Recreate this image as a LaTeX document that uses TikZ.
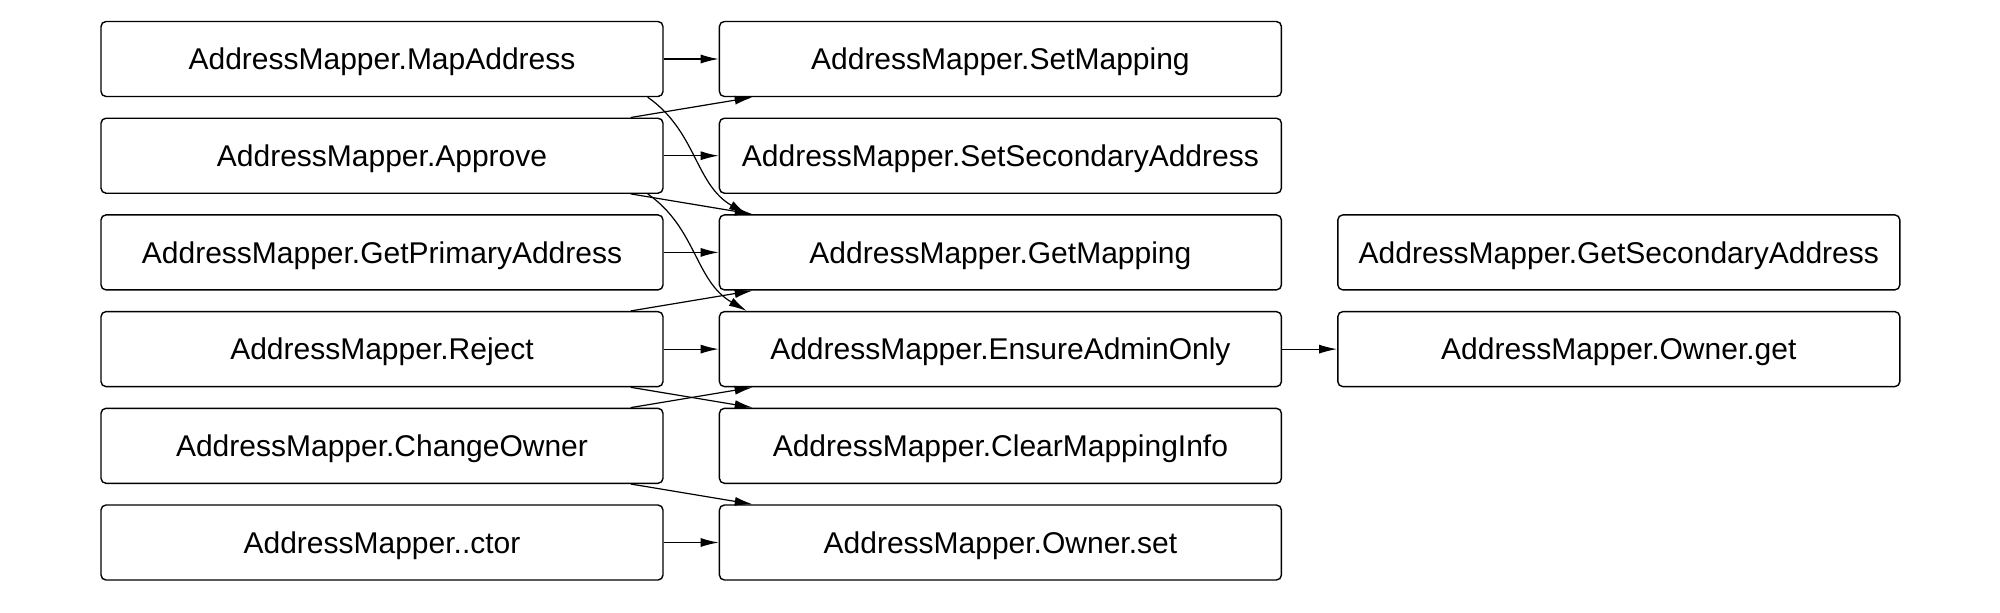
\documentclass[tikz,border=0pt]{standalone}
\usepackage{fontspec}
\setmainfont{Liberation Sans}
\usepackage{tikz}
\usetikzlibrary{arrows.meta, positioning}

\begin{document}
\begin{tikzpicture}[
    node distance=10.15pt and 27.5pt,
    every node/.style={rectangle, draw, rounded corners=2.5pt, line width=0.7pt,
        minimum width=281pt, minimum height=37.5pt, inner sep=0pt, text depth=0pt,
        font=\fontsize{15}{17}\selectfont},
    call/.style={draw, line width=0.6pt, -{Latex[length=9pt,width=4.5pt]}}
]
\useasboundingbox (0,0) rectangle (1000pt,-306pt);

% callers
\node (mapAddr) at (191pt,-29.5pt) {AddressMapper.MapAddress};
\node[below=of mapAddr] (approve) {AddressMapper.Approve};
\node[below=of approve] (getPrimary) {AddressMapper.GetPrimaryAddress};
\node[below=of getPrimary] (reject) {AddressMapper.Reject};
\node[below=of reject] (changeOwner) {AddressMapper.ChangeOwner};
\node[below=of changeOwner] (ctor) {AddressMapper..ctor};

% callees
\node[right=of mapAddr] (setMapping) {AddressMapper.SetMapping};
\node[right=of approve] (setSecondary) {AddressMapper.SetSecondaryAddress};
\node[right=of getPrimary] (getMapping) {AddressMapper.GetMapping};
\node[right=of reject] (ensureAdmin) {AddressMapper.EnsureAdminOnly};
\node[right=of changeOwner] (clearMapping) {AddressMapper.ClearMappingInfo};
\node[right=of ctor] (ownerSet) {AddressMapper.Owner.set};

\node[right=of getMapping] (getSecondary) {AddressMapper.GetSecondaryAddress};
\node[right=of ensureAdmin] (ownerGet) {AddressMapper.Owner.get};

% straight calls
\draw[call] (mapAddr) -- (setMapping);
\draw[call] (approve) -- (setSecondary);
\draw[call] (getPrimary) -- (getMapping);
\draw[call] (reject) -- (ensureAdmin);
\draw[call] (ctor) -- (ownerSet);
\draw[call] (ensureAdmin) -- (ownerGet);

% slanted calls
\draw[call] ([xshift=-16.5pt]approve.north east) -- ([xshift=17pt]setMapping.south west);
\draw[call] ([xshift=-16.5pt]approve.south east) -- ([xshift=17pt]getMapping.north west);
\draw[call] ([xshift=-16.5pt]reject.north east) -- ([xshift=17pt]getMapping.south west);
\draw[call] ([xshift=-16.5pt]reject.south east) -- ([xshift=17pt]clearMapping.north west);
\draw[call] ([xshift=-16.5pt]changeOwner.north east) -- ([xshift=17pt]ensureAdmin.south west);
\draw[call] ([xshift=-16.5pt]changeOwner.south east) -- ([xshift=17pt]ownerSet.north west);

% curved calls
\draw[call] ([xshift=-8pt]mapAddr.south east) to[out=-35,in=150] ([xshift=14pt]getMapping.north west);
\draw[call] ([xshift=-8pt]approve.south east) to[out=-35,in=150] ([xshift=14pt]ensureAdmin.north west);
\end{tikzpicture}
\end{document}
